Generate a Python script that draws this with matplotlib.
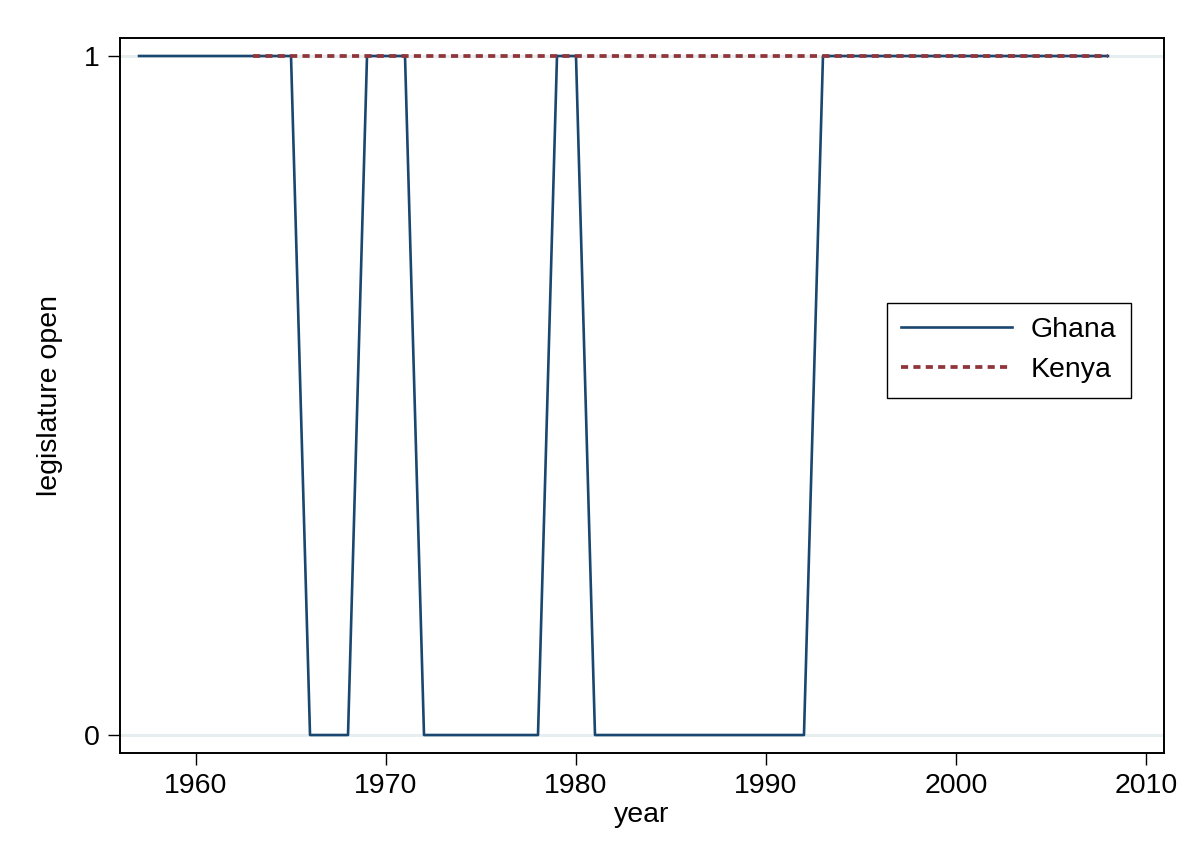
"""
Legislature open (Ghana vs Kenya), Stata-style line chart.
"""
import matplotlib
matplotlib.use('Agg')
import matplotlib.pyplot as plt

# Data
ghana_years = list(range(1957, 2009))
ghana_open = ([1] * 9 +        # 1957-1965
              [0] * 3 +        # 1966-1968
              [1] * 3 +        # 1969-1971
              [0] * 7 +        # 1972-1978
              [1] * 2 +        # 1979-1980
              [0] * 12 +       # 1981-1992
              [1] * 16)        # 1993-2008
kenya_years = list(range(1963, 2009))
kenya_open = [1] * len(kenya_years)

x_ticks = [1960, 1970, 1980, 1990, 2000, 2010]
y_ticks = [0, 1]

plt.rcParams['font.family'] = ['Liberation Sans', 'DejaVu Sans']

fig = plt.figure(figsize=(11.92, 8.5), dpi=100)
ax = fig.add_axes([0.1007, 0.1141, 0.8758, 0.8412])

# Stata-like horizontal gridlines
for y in y_ticks:
    ax.axhline(y, color='#e6eef0', linewidth=2.2, zorder=0)

ax.plot(ghana_years, ghana_open, color='#1a476f', linewidth=1.9, label='Ghana', zorder=2)
ax.plot(kenya_years, kenya_open, color='#90353b', linewidth=2.7,
        linestyle=(0, (1.9, 1.4)), label='Kenya', zorder=3)

ax.set_xlim(1956, 2010.95)
ax.set_ylim(-0.0265, 1.0265)
ax.set_xticks(x_ticks)
ax.set_yticks(y_ticks)
ax.tick_params(direction='out', length=8.5, width=1.0, labelsize=20.5, pad=6)

for side in ['top', 'bottom', 'left', 'right']:
    ax.spines[side].set_linewidth(1.4)
    ax.spines[side].set_color('black')

ax.set_xlabel('year', fontsize=20.5, labelpad=2)
ax.set_ylabel('legislature open', fontsize=20.5, labelpad=15)

leg = ax.legend(loc='upper left', bbox_to_anchor=(0.7347, 0.6294), fontsize=20.5,
                handlelength=3.9, frameon=True, fancybox=False, framealpha=1,
                borderpad=0.5, labelspacing=0.5, handletextpad=0.65,
                borderaxespad=0)
leg.get_frame().set_edgecolor('black')
leg.get_frame().set_linewidth(1.0)

fig.savefig('out.png', dpi=100, facecolor='white')
plt.close()
